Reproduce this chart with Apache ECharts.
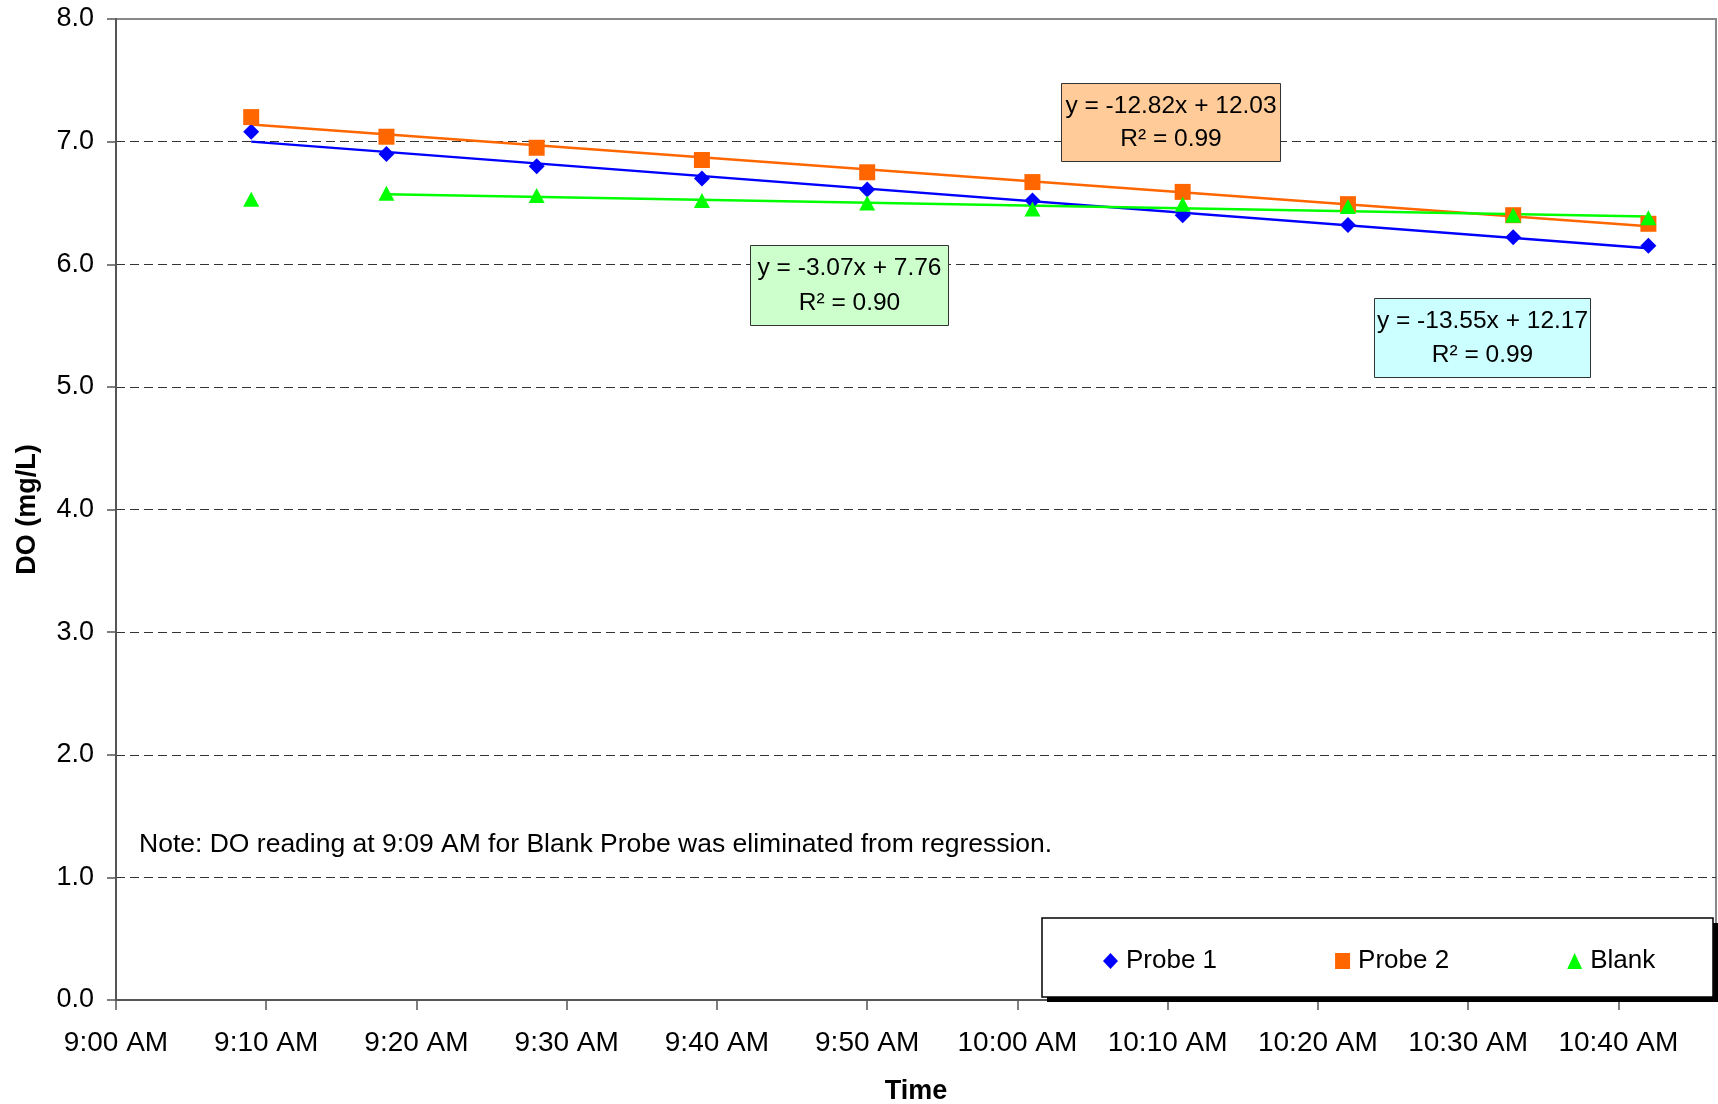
<!DOCTYPE html>
<html>
<head>
<meta charset="utf-8">
<script src="https://cdn.jsdelivr.net/npm/echarts@6/dist/echarts.min.js"></script>
<style>
html,body{margin:0;padding:0;background:#fff;}
#chart{width:1718px;height:1104px;}
</style>
</head>
<body>
<div id="chart"></div>
<script>
// ---- data ----
const times = ["9:09","9:18","9:28","9:39","9:50","10:01","10:11","10:22","10:33","10:42"];
const probe1 = [7.08, 6.90, 6.80, 6.70, 6.61, 6.52, 6.40, 6.32, 6.22, 6.15];
const probe2 = [7.20, 7.04, 6.95, 6.85, 6.75, 6.67, 6.59, 6.49, 6.40, 6.33];
const blank  = [6.53, 6.58, 6.56, 6.52, 6.50, 6.45, 6.49, 6.47, 6.40, 6.38];
// trendline end points (time, value)
const probe1TrendTimes = ["9:09","10:42"], probe1Trend = [7.00, 6.13];
const probe2TrendTimes = ["9:09","10:42"], probe2Trend = [7.14, 6.31];
const blankTrendTimes  = ["9:18","10:42"], blankTrend  = [6.57, 6.39];
const xTickLabels = ["9:00 AM","9:10 AM","9:20 AM","9:30 AM","9:40 AM","9:50 AM","10:00 AM","10:10 AM","10:20 AM","10:30 AM","10:40 AM"];
const yTickLabels = ["0.0","1.0","2.0","3.0","4.0","5.0","6.0","7.0","8.0"];
const eqProbe2 = ["y = -12.82x + 12.03", "R² = 0.99"];
const eqBlank  = ["y = -3.07x + 7.76", "R² = 0.90"];
const eqProbe1 = ["y = -13.55x + 12.17", "R² = 0.99"];
const noteText = "Note: DO reading at 9:09 AM for Blank Probe was eliminated from regression.";

function toMin(t){ const p=t.split(':'); return (parseInt(p[0])-9)*60 + parseInt(p[1]); }
function pairs(ts, vs){ return ts.map((t,i)=>[toMin(t), vs[i]]); }

const FONT = '"Liberation Sans", Arial, sans-serif';
const chart = echarts.init(document.getElementById('chart'), null, {renderer:'canvas'});

function eqBox(x, y, w, h, fill, lines){
  return {
    type:'group', left:x, top:y, z:20,
    children:[
      {type:'rect', z:20, shape:{x:0,y:0,width:w,height:h}, style:{fill:fill, stroke:'#333', lineWidth:1}},
      {type:'text', z:21, x:w/2, y:h*0.29, style:{text:lines[0], fill:'#000', font:'24.5px '+FONT, textAlign:'center', textVerticalAlign:'middle'}},
      {type:'text', z:21, x:w/2, y:h*0.72, style:{text:lines[1], fill:'#000', font:'24.5px '+FONT, textAlign:'center', textVerticalAlign:'middle'}}
    ]
  };
}

const option = {
  animation:false,
  backgroundColor:'#fff',
  textStyle:{fontFamily:FONT},
  grid:{left:116, right:2, top:19, bottom:104, outerBoundsMode:'none', containLabel:false,
    show:true, borderColor:'#888', borderWidth:2, backgroundColor:'transparent'},
  xAxis:{
    type:'value', min:0, max:106.5, interval:10,
    name:'Time', nameLocation:'middle', nameGap:78,
    nameTextStyle:{fontSize:27, fontWeight:'bold', color:'#000', fontFamily:FONT},
    axisLine:{show:true, onZero:false, lineStyle:{color:'#555', width:2}},
    axisTick:{show:true, length:10, lineStyle:{color:'#555', width:1.5}},
    axisLabel:{fontSize:28, color:'#000', margin:29, fontFamily:FONT, showMaxLabel:false,
      formatter:function(v){ const i=Math.round(v/10); return Math.abs(v-i*10)<1e-6 ? (xTickLabels[i]||'') : ''; }},
    splitLine:{show:false}
  },
  yAxis:{
    type:'value', min:0, max:8, interval:1,
    name:'DO (mg/L)', nameLocation:'middle', nameGap:75, nameRotate:90,
    nameTextStyle:{fontSize:27, fontWeight:'bold', color:'#000', fontFamily:FONT},
    axisLine:{show:true, lineStyle:{color:'#555', width:2}},
    axisTick:{show:true, length:9, lineStyle:{color:'#555', width:1.5}},
    axisLabel:{fontSize:27, color:'#000', margin:22, fontFamily:FONT,
      formatter:function(v){ return yTickLabels[Math.round(v)]; }},
    splitLine:{show:true, showMinLine:false, showMaxLine:false, lineStyle:{color:'#333', width:1.2, type:[9,5]}}
  },
  legend:{
    data:[{name:'Probe 1', icon:'diamond'},{name:'Probe 2', icon:'rect'},{name:'Blank', icon:'triangle'}],
    left:1103, top:948, orient:'horizontal', z:30,
    padding:0, itemGap:118, itemWidth:15, itemHeight:16,
    textStyle:{fontSize:26, color:'#000', fontFamily:FONT, padding:[0,0,0,3]}
  },
  series:[
    {name:'Probe 1 trend', type:'line', data:pairs(probe1TrendTimes, probe1Trend), showSymbol:false, silent:true, z:2,
      lineStyle:{color:'#0000FF', width:2.5}},
    {name:'Probe 2 trend', type:'line', data:pairs(probe2TrendTimes, probe2Trend), showSymbol:false, silent:true, z:2,
      lineStyle:{color:'#FF6600', width:2.5}},
    {name:'Blank trend', type:'line', data:pairs(blankTrendTimes, blankTrend), showSymbol:false, silent:true, z:2,
      lineStyle:{color:'#00FF00', width:2.5}},
    {name:'Probe 1', type:'scatter', data:pairs(times, probe1), symbol:'diamond', symbolSize:16, z:3,
      itemStyle:{color:'#0000FF', opacity:1}},
    {name:'Probe 2', type:'scatter', data:pairs(times, probe2), symbol:'rect', symbolSize:16, z:3,
      itemStyle:{color:'#FF6600', opacity:1}},
    {name:'Blank', type:'scatter', data:pairs(times, blank), symbol:'triangle', symbolSize:[16,15], z:3,
      itemStyle:{color:'#00FF00', opacity:1}}
  ],
  graphic:[
    eqBox(1061, 83, 219, 78, '#FFCC99', eqProbe2),
    eqBox(750, 245, 198, 80, '#CCFFCC', eqBlank),
    eqBox(1374, 298, 216, 79, '#CCFFFF', eqProbe1),
    {type:'text', left:139, top:831, z:20, style:{text:noteText, fill:'#000', font:'26.5px '+FONT}},
    // legend frame with hard drop shadow
    {type:'rect', z:20, shape:{x:1047, y:923, width:671, height:79}, style:{fill:'#000'}},
    {type:'rect', z:21, shape:{x:1042, y:918, width:671, height:79}, style:{fill:'#fff', stroke:'#000', lineWidth:1.5}}
  ]
};
chart.setOption(option);
</script>
</body>
</html>
